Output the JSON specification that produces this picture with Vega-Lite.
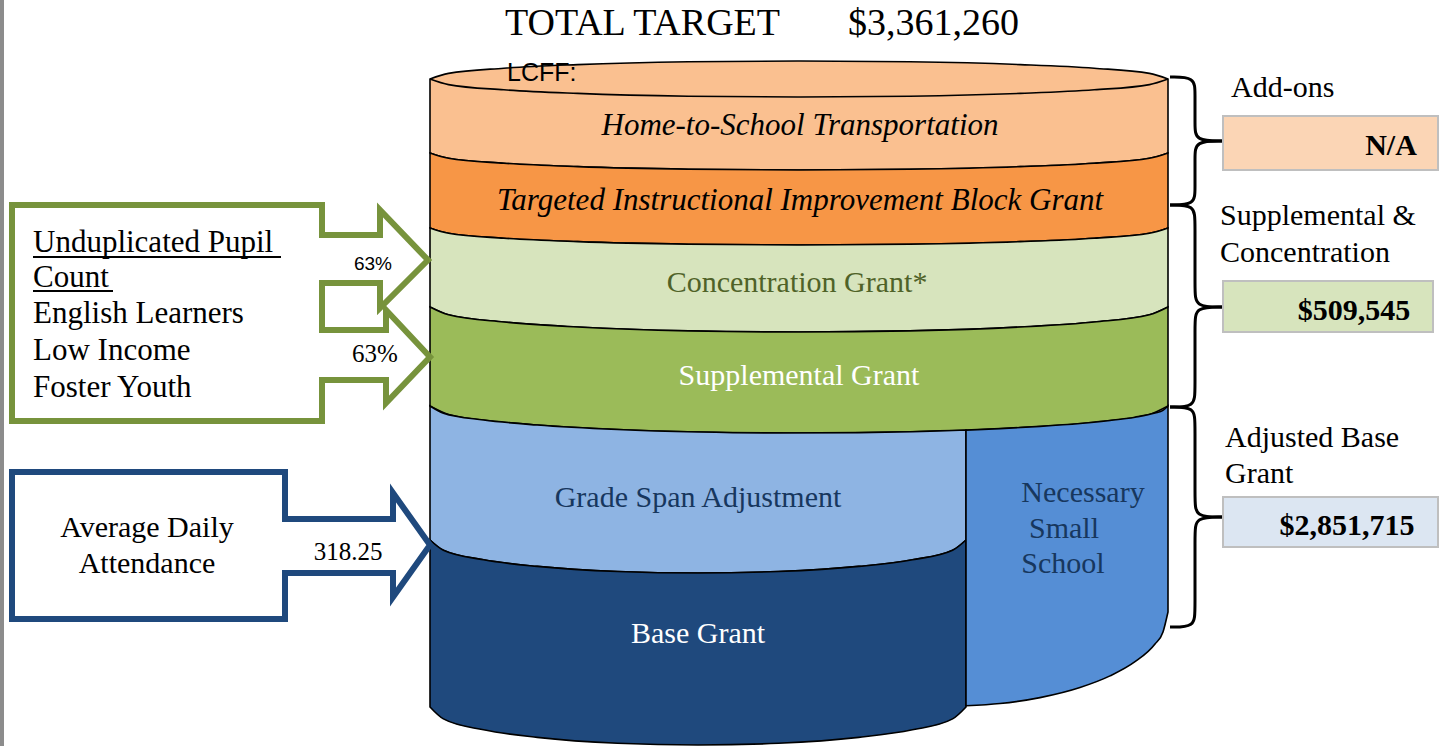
{
  "$schema": "https://vega.github.io/schema/vega-lite/v6.json",
  "width": 1444,
  "height": 746,
  "autosize": {"type": "none"},
  "padding": 0,
  "background": "white",
  "config": {"view": {"stroke": null}},
  "resolve": {"scale": {"color": "independent"}},
  "datasets": {
    "bands": [
      {"band": "Home", "x": 430, "top": 79, "bottom": 153},
      {"band": "Home", "x": 448.5, "top": 73.4, "bottom": 158.3},
      {"band": "Home", "x": 503.8, "top": 68.2, "bottom": 163.2},
      {"band": "Home", "x": 577.6, "top": 64.6, "bottom": 166.6},
      {"band": "Home", "x": 688.3, "top": 61.8, "bottom": 169.2},
      {"band": "Home", "x": 799, "top": 61, "bottom": 170},
      {"band": "Home", "x": 909.7, "top": 61.8, "bottom": 169.2},
      {"band": "Home", "x": 1020.4, "top": 64.6, "bottom": 166.6},
      {"band": "Home", "x": 1094.2, "top": 68.2, "bottom": 163.2},
      {"band": "Home", "x": 1149.5, "top": 73.4, "bottom": 158.3},
      {"band": "Home", "x": 1168, "top": 79, "bottom": 153},
      {"band": "TIIBG", "x": 430, "top": 153, "bottom": 228},
      {"band": "TIIBG", "x": 448.5, "top": 158.3, "bottom": 233.3},
      {"band": "TIIBG", "x": 503.8, "top": 163.2, "bottom": 238.2},
      {"band": "TIIBG", "x": 577.6, "top": 166.6, "bottom": 241.6},
      {"band": "TIIBG", "x": 688.3, "top": 169.2, "bottom": 244.2},
      {"band": "TIIBG", "x": 799, "top": 170, "bottom": 245},
      {"band": "TIIBG", "x": 909.7, "top": 169.2, "bottom": 244.2},
      {"band": "TIIBG", "x": 1020.4, "top": 166.6, "bottom": 241.6},
      {"band": "TIIBG", "x": 1094.2, "top": 163.2, "bottom": 238.2},
      {"band": "TIIBG", "x": 1149.5, "top": 158.3, "bottom": 233.3},
      {"band": "TIIBG", "x": 1168, "top": 153, "bottom": 228},
      {"band": "Conc", "x": 430, "top": 228, "bottom": 307},
      {"band": "Conc", "x": 448.5, "top": 233.3, "bottom": 314.8},
      {"band": "Conc", "x": 503.8, "top": 238.2, "bottom": 322},
      {"band": "Conc", "x": 577.6, "top": 241.6, "bottom": 327},
      {"band": "Conc", "x": 688.3, "top": 244.2, "bottom": 330.9},
      {"band": "Conc", "x": 799, "top": 245, "bottom": 332},
      {"band": "Conc", "x": 909.7, "top": 244.2, "bottom": 330.9},
      {"band": "Conc", "x": 1020.4, "top": 241.6, "bottom": 327},
      {"band": "Conc", "x": 1094.2, "top": 238.2, "bottom": 322},
      {"band": "Conc", "x": 1149.5, "top": 233.3, "bottom": 314.8},
      {"band": "Conc", "x": 1168, "top": 228, "bottom": 307},
      {"band": "Supp", "x": 430, "top": 307, "bottom": 406},
      {"band": "Supp", "x": 448.5, "top": 314.8, "bottom": 414.4},
      {"band": "Supp", "x": 503.8, "top": 322, "bottom": 422.2},
      {"band": "Supp", "x": 577.6, "top": 327, "bottom": 427.6},
      {"band": "Supp", "x": 688.3, "top": 330.9, "bottom": 431.8},
      {"band": "Supp", "x": 799, "top": 332, "bottom": 433},
      {"band": "Supp", "x": 909.7, "top": 330.9, "bottom": 431.8},
      {"band": "Supp", "x": 1020.4, "top": 327, "bottom": 427.6},
      {"band": "Supp", "x": 1094.2, "top": 322, "bottom": 422.2},
      {"band": "Supp", "x": 1149.5, "top": 314.8, "bottom": 414.4},
      {"band": "Supp", "x": 1168, "top": 307, "bottom": 406},
      {"band": "GSA", "x": 430, "top": 406, "bottom": 540},
      {"band": "GSA", "x": 443.4, "top": 413.2, "bottom": 550.3},
      {"band": "GSA", "x": 483.6, "top": 420, "bottom": 559.8},
      {"band": "GSA", "x": 537.2, "top": 425, "bottom": 566.4},
      {"band": "GSA", "x": 617.6, "top": 429.5, "bottom": 571.5},
      {"band": "GSA", "x": 698, "top": 432, "bottom": 573},
      {"band": "GSA", "x": 778.4, "top": 433, "bottom": 571.5},
      {"band": "GSA", "x": 858.8, "top": 432.6, "bottom": 566.4},
      {"band": "GSA", "x": 912.4, "top": 431.7, "bottom": 559.8},
      {"band": "GSA", "x": 952.6, "top": 430.5, "bottom": 550.3},
      {"band": "GSA", "x": 966, "top": 430.1, "bottom": 540},
      {"band": "Base", "x": 430, "top": 540, "bottom": 707},
      {"band": "Base", "x": 443.4, "top": 550.3, "bottom": 718.9},
      {"band": "Base", "x": 483.6, "top": 559.8, "bottom": 729.8},
      {"band": "Base", "x": 537.2, "top": 566.4, "bottom": 737.4},
      {"band": "Base", "x": 617.6, "top": 571.5, "bottom": 743.3},
      {"band": "Base", "x": 698, "top": 573, "bottom": 745},
      {"band": "Base", "x": 778.4, "top": 571.5, "bottom": 743.3},
      {"band": "Base", "x": 858.8, "top": 566.4, "bottom": 737.4},
      {"band": "Base", "x": 912.4, "top": 559.8, "bottom": 729.8},
      {"band": "Base", "x": 952.6, "top": 550.3, "bottom": 718.9},
      {"band": "Base", "x": 966, "top": 540, "bottom": 707},
      {"band": "NSS", "x": 966, "top": 430.1, "bottom": 705.7},
      {"band": "NSS", "x": 1000, "top": 428.6, "bottom": 703.5},
      {"band": "NSS", "x": 1040, "top": 426.4, "bottom": 697.6},
      {"band": "NSS", "x": 1080, "top": 423.5, "bottom": 687.5},
      {"band": "NSS", "x": 1110, "top": 420.5, "bottom": 675.9},
      {"band": "NSS", "x": 1135, "top": 417.2, "bottom": 661.7},
      {"band": "NSS", "x": 1155, "top": 413.1, "bottom": 644},
      {"band": "NSS", "x": 1163, "top": 410.4, "bottom": 632},
      {"band": "NSS", "x": 1168, "top": 406, "bottom": 612}
    ],
    "rim": [
      {"x": 430, "y": 79}, {"x": 448.5, "y": 84.6}, {"x": 503.8, "y": 89.8},
      {"x": 577.6, "y": 93.4}, {"x": 688.3, "y": 96.2}, {"x": 799, "y": 97},
      {"x": 909.7, "y": 96.2}, {"x": 1020.4, "y": 93.4}, {"x": 1094.2, "y": 89.8},
      {"x": 1149.5, "y": 84.6}, {"x": 1168, "y": 79}
    ],
    "greenOutline": [
      {"i": 0, "x": 12, "y": 205}, {"i": 1, "x": 322, "y": 205}, {"i": 2, "x": 322, "y": 235},
      {"i": 3, "x": 380, "y": 235}, {"i": 4, "x": 380, "y": 210}, {"i": 5, "x": 428, "y": 260},
      {"i": 6, "x": 380, "y": 308}, {"i": 7, "x": 380, "y": 283}, {"i": 8, "x": 322, "y": 283},
      {"i": 9, "x": 322, "y": 330}, {"i": 10, "x": 386, "y": 330}, {"i": 11, "x": 386, "y": 310},
      {"i": 12, "x": 430, "y": 357}, {"i": 13, "x": 386, "y": 403}, {"i": 14, "x": 386, "y": 380},
      {"i": 15, "x": 322, "y": 380}, {"i": 16, "x": 322, "y": 421}, {"i": 17, "x": 12, "y": 421},
      {"i": 18, "x": 12, "y": 205}
    ],
    "blueOutline": [
      {"i": 0, "x": 12, "y": 472}, {"i": 1, "x": 285, "y": 472}, {"i": 2, "x": 285, "y": 519},
      {"i": 3, "x": 393, "y": 519}, {"i": 4, "x": 393, "y": 493}, {"i": 5, "x": 430, "y": 545},
      {"i": 6, "x": 393, "y": 597}, {"i": 7, "x": 393, "y": 573}, {"i": 8, "x": 285, "y": 573},
      {"i": 9, "x": 285, "y": 619}, {"i": 10, "x": 12, "y": 619}, {"i": 11, "x": 12, "y": 472}
    ],
    "braces": [
      {"seg": "a1", "i": 0, "x": 1170, "y": 77}, {"seg": "a1", "i": 1, "x": 1195, "y": 77},
      {"seg": "a1", "i": 2, "x": 1195, "y": 93}, {"seg": "a1", "i": 3, "x": 1195, "y": 125},
      {"seg": "a1", "i": 4, "x": 1195, "y": 141}, {"seg": "a1", "i": 5, "x": 1223, "y": 141},
      {"seg": "a2", "i": 0, "x": 1223, "y": 141}, {"seg": "a2", "i": 1, "x": 1195, "y": 141},
      {"seg": "a2", "i": 2, "x": 1195, "y": 157}, {"seg": "a2", "i": 3, "x": 1195, "y": 189},
      {"seg": "a2", "i": 4, "x": 1195, "y": 205}, {"seg": "a2", "i": 5, "x": 1170, "y": 205},
      {"seg": "b1", "i": 0, "x": 1170, "y": 205}, {"seg": "b1", "i": 1, "x": 1195, "y": 205},
      {"seg": "b1", "i": 2, "x": 1195, "y": 222}, {"seg": "b1", "i": 3, "x": 1195, "y": 290},
      {"seg": "b1", "i": 4, "x": 1195, "y": 307}, {"seg": "b1", "i": 5, "x": 1223, "y": 307},
      {"seg": "b2", "i": 0, "x": 1223, "y": 307}, {"seg": "b2", "i": 1, "x": 1195, "y": 307},
      {"seg": "b2", "i": 2, "x": 1195, "y": 324}, {"seg": "b2", "i": 3, "x": 1195, "y": 390},
      {"seg": "b2", "i": 4, "x": 1195, "y": 407}, {"seg": "b2", "i": 5, "x": 1170, "y": 407},
      {"seg": "c1", "i": 0, "x": 1170, "y": 407}, {"seg": "c1", "i": 1, "x": 1195, "y": 407},
      {"seg": "c1", "i": 2, "x": 1195, "y": 424}, {"seg": "c1", "i": 3, "x": 1195, "y": 500},
      {"seg": "c1", "i": 4, "x": 1195, "y": 517}, {"seg": "c1", "i": 5, "x": 1223, "y": 517},
      {"seg": "c2", "i": 0, "x": 1223, "y": 517}, {"seg": "c2", "i": 1, "x": 1195, "y": 517},
      {"seg": "c2", "i": 2, "x": 1195, "y": 534}, {"seg": "c2", "i": 3, "x": 1195, "y": 610},
      {"seg": "c2", "i": 4, "x": 1195, "y": 627}, {"seg": "c2", "i": 5, "x": 1170, "y": 627}
    ],
    "boxes": [
      {"box": "addons", "x": 1223, "x2": 1438, "y": 116, "y2": 170},
      {"box": "supp", "x": 1223, "x2": 1433, "y": 281, "y2": 332},
      {"box": "base", "x": 1223, "x2": 1438, "y": 497, "y2": 547}
    ]
  },
  "layer": [
    {
      "data": {"values": [{"x": 0, "x2": 4, "y": 0, "y2": 746}]},
      "mark": {"type": "rect", "fill": "#8c8c8c"},
      "encoding": {
        "x": {"field": "x", "type": "quantitative", "scale": {"domain": [0, 1444], "nice": false, "zero": false}, "axis": null},
        "x2": {"field": "x2"},
        "y": {"field": "y", "type": "quantitative", "scale": {"domain": [0, 746], "reverse": true, "nice": false, "zero": false}, "axis": null},
        "y2": {"field": "y2"}
      }
    },
    {
      "data": {"name": "bands"},
      "mark": {"type": "area", "interpolate": "monotone", "stroke": "black", "strokeWidth": 1.6, "fillOpacity": 1},
      "encoding": {
        "x": {"field": "x", "type": "quantitative", "scale": {"domain": [0, 1444], "nice": false, "zero": false}, "axis": null},
        "y": {"field": "top", "type": "quantitative", "stack": null, "scale": {"domain": [0, 746], "reverse": true, "nice": false, "zero": false}, "axis": null},
        "y2": {"field": "bottom"},
        "color": {
          "field": "band", "type": "nominal", "legend": null,
          "scale": {
            "domain": ["Home", "TIIBG", "Conc", "Supp", "GSA", "Base", "NSS"],
            "range": ["#FAC090", "#F79646", "#D7E4BD", "#9BBB59", "#8EB4E3", "#1F497D", "#558ED5"]
          }
        }
      }
    },
    {
      "data": {"name": "rim"},
      "mark": {"type": "line", "interpolate": "monotone", "stroke": "black", "strokeWidth": 1.6},
      "encoding": {
        "x": {"field": "x", "type": "quantitative", "scale": {"domain": [0, 1444], "nice": false, "zero": false}, "axis": null},
        "y": {"field": "y", "type": "quantitative", "scale": {"domain": [0, 746], "reverse": true, "nice": false, "zero": false}, "axis": null}
      }
    },
    {
      "data": {"name": "greenOutline"},
      "mark": {"type": "line", "stroke": "#77933C", "strokeWidth": 6, "strokeCap": "square", "strokeJoin": "miter"},
      "encoding": {
        "x": {"field": "x", "type": "quantitative", "scale": {"domain": [0, 1444], "nice": false, "zero": false}, "axis": null},
        "y": {"field": "y", "type": "quantitative", "scale": {"domain": [0, 746], "reverse": true, "nice": false, "zero": false}, "axis": null},
        "order": {"field": "i", "type": "quantitative"}
      }
    },
    {
      "data": {"name": "blueOutline"},
      "mark": {"type": "line", "stroke": "#1F497D", "strokeWidth": 6, "strokeCap": "square", "strokeJoin": "miter"},
      "encoding": {
        "x": {"field": "x", "type": "quantitative", "scale": {"domain": [0, 1444], "nice": false, "zero": false}, "axis": null},
        "y": {"field": "y", "type": "quantitative", "scale": {"domain": [0, 746], "reverse": true, "nice": false, "zero": false}, "axis": null},
        "order": {"field": "i", "type": "quantitative"}
      }
    },
    {
      "data": {"name": "braces"},
      "mark": {"type": "line", "interpolate": "basis", "stroke": "black", "strokeWidth": 3},
      "encoding": {
        "x": {"field": "x", "type": "quantitative", "scale": {"domain": [0, 1444], "nice": false, "zero": false}, "axis": null},
        "y": {"field": "y", "type": "quantitative", "scale": {"domain": [0, 746], "reverse": true, "nice": false, "zero": false}, "axis": null},
        "detail": {"field": "seg", "type": "nominal"},
        "order": {"field": "i", "type": "quantitative"}
      }
    },
    {
      "data": {"name": "boxes"},
      "mark": {"type": "rect", "stroke": "#BFBFBF", "strokeWidth": 2},
      "encoding": {
        "x": {"field": "x", "type": "quantitative", "scale": {"domain": [0, 1444], "nice": false, "zero": false}, "axis": null},
        "x2": {"field": "x2"},
        "y": {"field": "y", "type": "quantitative", "scale": {"domain": [0, 746], "reverse": true, "nice": false, "zero": false}, "axis": null},
        "y2": {"field": "y2"},
        "color": {
          "field": "box", "type": "nominal", "legend": null,
          "scale": {"domain": ["addons", "supp", "base"], "range": ["#FBD5B5", "#D7E4BD", "#DCE6F2"]}
        }
      }
    },
    {
      "data": {"values": [{"x": 33, "x2": 281, "y": 257}, {"x": 33, "x2": 113, "y": 291}]},
      "mark": {"type": "rule", "stroke": "black", "strokeWidth": 2},
      "encoding": {
        "x": {"field": "x", "type": "quantitative", "scale": {"domain": [0, 1444], "nice": false, "zero": false}, "axis": null},
        "x2": {"field": "x2"},
        "y": {"field": "y", "type": "quantitative", "scale": {"domain": [0, 746], "reverse": true, "nice": false, "zero": false}, "axis": null}
      }
    },
    {
      "data": {"values": [{"t": "TOTAL TARGET", "x": 505, "y": 35}, {"t": "$3,361,260", "x": 848, "y": 35}]},
      "mark": {"type": "text", "font": "Liberation Serif", "fontSize": 38, "align": "left", "baseline": "alphabetic", "fill": "black"},
      "encoding": {
        "x": {"field": "x", "type": "quantitative", "scale": {"domain": [0, 1444], "nice": false, "zero": false}, "axis": null},
        "y": {"field": "y", "type": "quantitative", "scale": {"domain": [0, 746], "reverse": true, "nice": false, "zero": false}, "axis": null},
        "text": {"field": "t"}
      }
    },
    {
      "data": {"values": [{"t": "LCFF:", "x": 507, "y": 81}]},
      "mark": {"type": "text", "font": "Liberation Sans", "fontSize": 25, "align": "left", "baseline": "alphabetic", "fill": "black"},
      "encoding": {
        "x": {"field": "x", "type": "quantitative", "scale": {"domain": [0, 1444], "nice": false, "zero": false}, "axis": null},
        "y": {"field": "y", "type": "quantitative", "scale": {"domain": [0, 746], "reverse": true, "nice": false, "zero": false}, "axis": null},
        "text": {"field": "t"}
      }
    },
    {
      "data": {"values": [{"t": "Home-to-School Transportation", "x": 800, "y": 135}, {"t": "Targeted Instructional Improvement Block Grant", "x": 800, "y": 210}]},
      "mark": {"type": "text", "font": "Liberation Serif", "fontSize": 31, "fontStyle": "italic", "align": "center", "baseline": "alphabetic", "fill": "black"},
      "encoding": {
        "x": {"field": "x", "type": "quantitative", "scale": {"domain": [0, 1444], "nice": false, "zero": false}, "axis": null},
        "y": {"field": "y", "type": "quantitative", "scale": {"domain": [0, 746], "reverse": true, "nice": false, "zero": false}, "axis": null},
        "text": {"field": "t"}
      }
    },
    {
      "data": {"values": [{"t": "Concentration Grant*", "x": 797, "y": 292}]},
      "mark": {"type": "text", "font": "Liberation Serif", "fontSize": 30, "align": "center", "baseline": "alphabetic", "fill": "#4F6228"},
      "encoding": {
        "x": {"field": "x", "type": "quantitative", "scale": {"domain": [0, 1444], "nice": false, "zero": false}, "axis": null},
        "y": {"field": "y", "type": "quantitative", "scale": {"domain": [0, 746], "reverse": true, "nice": false, "zero": false}, "axis": null},
        "text": {"field": "t"}
      }
    },
    {
      "data": {"values": [{"t": "Supplemental Grant", "x": 799, "y": 385}, {"t": "Base Grant", "x": 698, "y": 643}]},
      "mark": {"type": "text", "font": "Liberation Serif", "fontSize": 30, "align": "center", "baseline": "alphabetic", "fill": "white"},
      "encoding": {
        "x": {"field": "x", "type": "quantitative", "scale": {"domain": [0, 1444], "nice": false, "zero": false}, "axis": null},
        "y": {"field": "y", "type": "quantitative", "scale": {"domain": [0, 746], "reverse": true, "nice": false, "zero": false}, "axis": null},
        "text": {"field": "t"}
      }
    },
    {
      "data": {"values": [
        {"t": "Grade Span Adjustment", "x": 698, "y": 507},
        {"t": "Necessary", "x": 1083, "y": 502},
        {"t": "Small", "x": 1064, "y": 538},
        {"t": "School", "x": 1063, "y": 573}
      ]},
      "mark": {"type": "text", "font": "Liberation Serif", "fontSize": 30, "align": "center", "baseline": "alphabetic", "fill": "#17375E"},
      "encoding": {
        "x": {"field": "x", "type": "quantitative", "scale": {"domain": [0, 1444], "nice": false, "zero": false}, "axis": null},
        "y": {"field": "y", "type": "quantitative", "scale": {"domain": [0, 746], "reverse": true, "nice": false, "zero": false}, "axis": null},
        "text": {"field": "t"}
      }
    },
    {
      "data": {"values": [
        {"t": "Add-ons", "x": 1231, "y": 97},
        {"t": "Supplemental &", "x": 1220, "y": 225},
        {"t": "Concentration", "x": 1220, "y": 262},
        {"t": "Adjusted Base", "x": 1225, "y": 447},
        {"t": "Grant", "x": 1225, "y": 483}
      ]},
      "mark": {"type": "text", "font": "Liberation Serif", "fontSize": 30, "align": "left", "baseline": "alphabetic", "fill": "black"},
      "encoding": {
        "x": {"field": "x", "type": "quantitative", "scale": {"domain": [0, 1444], "nice": false, "zero": false}, "axis": null},
        "y": {"field": "y", "type": "quantitative", "scale": {"domain": [0, 746], "reverse": true, "nice": false, "zero": false}, "axis": null},
        "text": {"field": "t"}
      }
    },
    {
      "data": {"values": [
        {"t": "N/A", "x": 1391, "y": 155},
        {"t": "$509,545", "x": 1354, "y": 320},
        {"t": "$2,851,715", "x": 1347, "y": 535}
      ]},
      "mark": {"type": "text", "font": "Liberation Serif", "fontSize": 30, "fontWeight": "bold", "align": "center", "baseline": "alphabetic", "fill": "black"},
      "encoding": {
        "x": {"field": "x", "type": "quantitative", "scale": {"domain": [0, 1444], "nice": false, "zero": false}, "axis": null},
        "y": {"field": "y", "type": "quantitative", "scale": {"domain": [0, 746], "reverse": true, "nice": false, "zero": false}, "axis": null},
        "text": {"field": "t"}
      }
    },
    {
      "data": {"values": [
        {"t": "Unduplicated Pupil", "x": 33, "y": 252},
        {"t": "Count", "x": 33, "y": 287},
        {"t": "English Learners", "x": 33, "y": 323},
        {"t": "Low Income", "x": 33, "y": 360},
        {"t": "Foster Youth", "x": 33, "y": 397}
      ]},
      "mark": {"type": "text", "font": "Liberation Serif", "fontSize": 31, "align": "left", "baseline": "alphabetic", "fill": "black"},
      "encoding": {
        "x": {"field": "x", "type": "quantitative", "scale": {"domain": [0, 1444], "nice": false, "zero": false}, "axis": null},
        "y": {"field": "y", "type": "quantitative", "scale": {"domain": [0, 746], "reverse": true, "nice": false, "zero": false}, "axis": null},
        "text": {"field": "t"}
      }
    },
    {
      "data": {"values": [
        {"t": "Average Daily", "x": 147, "y": 537},
        {"t": "Attendance", "x": 147, "y": 573}
      ]},
      "mark": {"type": "text", "font": "Liberation Serif", "fontSize": 30, "align": "center", "baseline": "alphabetic", "fill": "black"},
      "encoding": {
        "x": {"field": "x", "type": "quantitative", "scale": {"domain": [0, 1444], "nice": false, "zero": false}, "axis": null},
        "y": {"field": "y", "type": "quantitative", "scale": {"domain": [0, 746], "reverse": true, "nice": false, "zero": false}, "axis": null},
        "text": {"field": "t"}
      }
    },
    {
      "data": {"values": [{"t": "318.25", "x": 348, "y": 560}, {"t": "63%", "x": 375, "y": 362}]},
      "mark": {"type": "text", "font": "Liberation Serif", "fontSize": 25, "align": "center", "baseline": "alphabetic", "fill": "black"},
      "encoding": {
        "x": {"field": "x", "type": "quantitative", "scale": {"domain": [0, 1444], "nice": false, "zero": false}, "axis": null},
        "y": {"field": "y", "type": "quantitative", "scale": {"domain": [0, 746], "reverse": true, "nice": false, "zero": false}, "axis": null},
        "text": {"field": "t"}
      }
    },
    {
      "data": {"values": [{"t": "63%", "x": 373, "y": 270}]},
      "mark": {"type": "text", "font": "Liberation Sans", "fontSize": 19, "align": "center", "baseline": "alphabetic", "fill": "black"},
      "encoding": {
        "x": {"field": "x", "type": "quantitative", "scale": {"domain": [0, 1444], "nice": false, "zero": false}, "axis": null},
        "y": {"field": "y", "type": "quantitative", "scale": {"domain": [0, 746], "reverse": true, "nice": false, "zero": false}, "axis": null},
        "text": {"field": "t"}
      }
    }
  ]
}
